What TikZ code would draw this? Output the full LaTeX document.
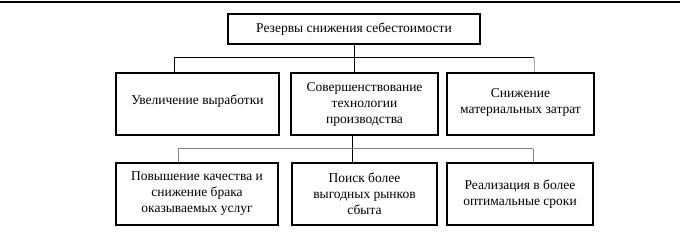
\documentclass[tikz,border=0pt]{standalone}
\usepackage{fontspec}
\setmainfont{Liberation Serif}
\tikzset{
  box/.style={draw, line width=1.6pt, align=center, inner sep=2pt,
    minimum height=62pt, font=\fontsize{13.5}{16}\selectfont},
  link/.style={line width=0.6pt},
}
\newcommand{\lift}[1]{\rule[-#1]{0pt}{0pt}}
\begin{document}
\begin{tikzpicture}[x=1pt, y=-1pt]
  \useasboundingbox (0,0) rectangle (680,239);
  % Coordinates
  \coordinate (A) at (354.0, 29.0);
  \coordinate (B) at (197.5, 104.0);
  \coordinate (C) at (364.5, 104.0);
  \coordinate (D) at (520.5, 104.0);
  \coordinate (E) at (197.0, 194.0);
  \coordinate (F) at (364.5, 194.0);
  \coordinate (G) at (520.0, 194.0);
  \coordinate (H) at (174.0, 57.5);
  \coordinate (I) at (354.0, 57.5);
  \coordinate (J) at (534.0, 57.5);
  \coordinate (K) at (178.0, 148.5);
  \coordinate (L) at (352.0, 148.5);
  \coordinate (M) at (533.0, 148.5);

  % Drawing
  \draw[line width=1.2pt] (0,2) -- (680,2);
  \node[box, minimum width=252pt, minimum height=30pt] (top) at (A) {Резервы снижения себестоимости};
  \node[box, minimum width=163pt] (m1) at (B) {Увеличение выработки\lift{8pt}};
  \node[box, minimum width=147pt] (m2) at (C) {Совершенствование\\технологии\\производства};
  \node[box, minimum width=147pt] (m3) at (D) {Снижение\\материальных затрат\lift{6pt}};
  \node[box, minimum width=162pt] (b1) at (E) {Повышение качества и\\снижение брака\\оказываемых услуг};
  \node[box, minimum width=145pt] (b2) at (F) {Поиск более\\выгодных рынков\\сбыта};
  \node[box, minimum width=146pt] (b3) at (G) {Реализация в более\\оптимальные сроки};
  \draw[link] (top.south) -- (I);
  \draw[link] (H) -- (J);
  \draw[link] (H) -- (m1.north -| H);
  \draw[link] (I) -- (m2.north -| I);
  \draw[link, gray!70] (J) -- (m3.north -| J);
  \draw[link] (m2.south -| L) -- (L);
  \draw[link, gray] (K) -- (M);
  \draw[link, gray] (K) -- (b1.north -| K);
  \draw[link] (L) -- (b2.north -| L);
  \draw[link, gray] (M) -- (b3.north -| M);
\end{tikzpicture}
\end{document}
